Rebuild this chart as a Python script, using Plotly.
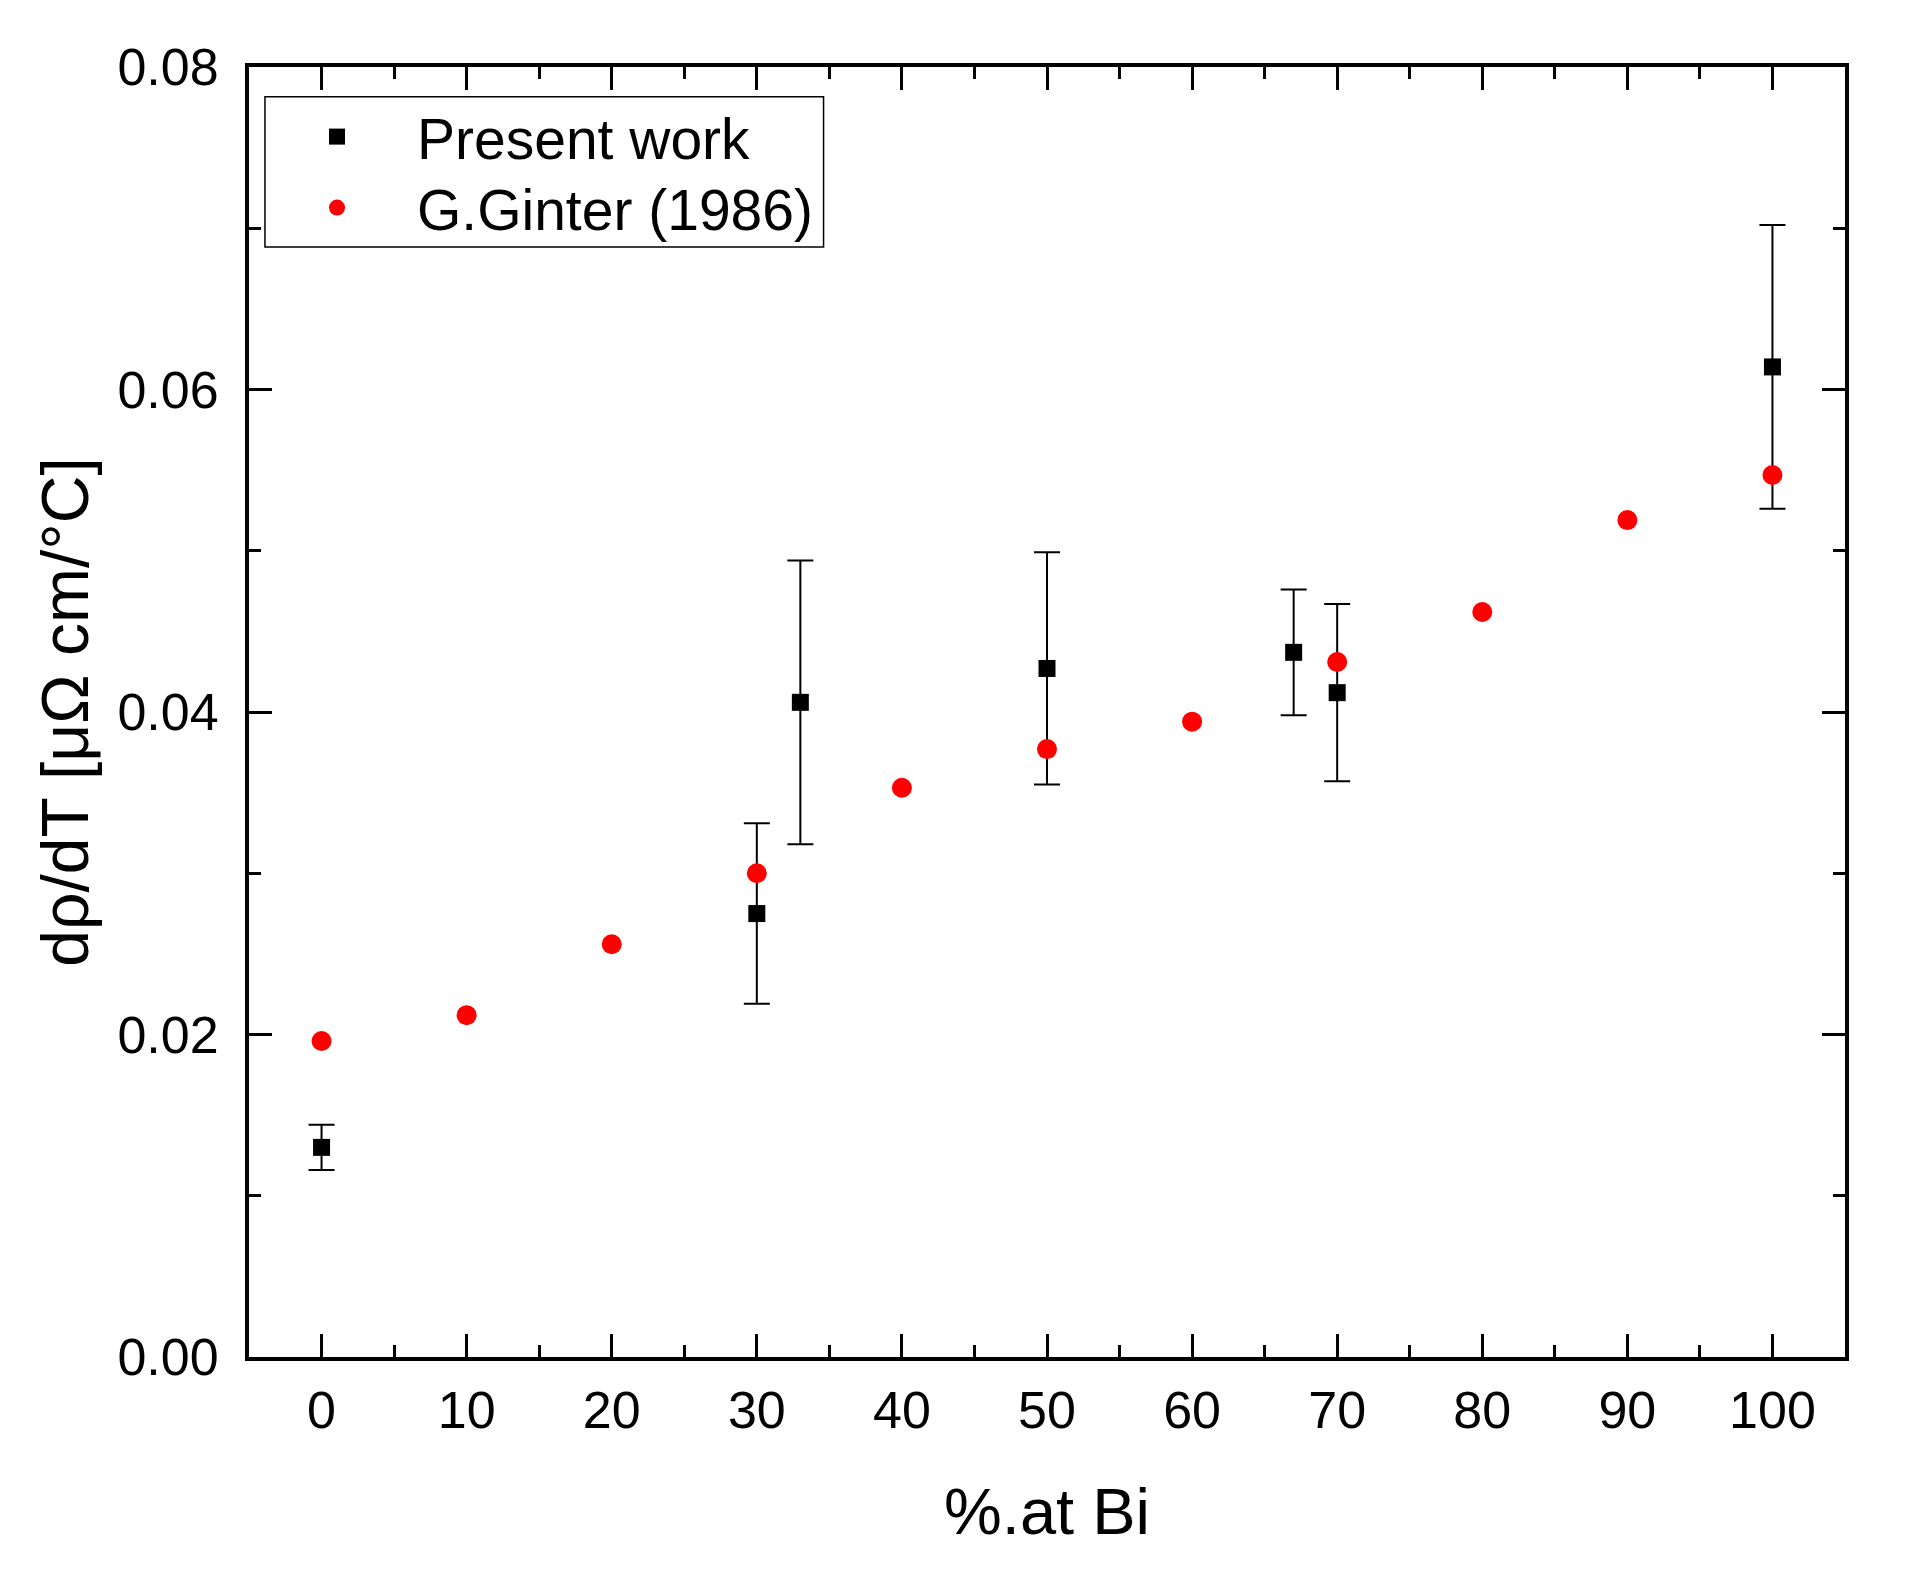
import plotly.graph_objects as go

# Present work
pw_x = [0, 30, 33, 50, 67, 70, 100]
pw_y = [0.0130, 0.0275, 0.0406, 0.0427, 0.0437, 0.0412, 0.0614]
pw_err = [0.0014, 0.0056, 0.0088, 0.0072, 0.0039, 0.0055, 0.0088]

# G.Ginter (1986)
gg_x = [0, 10, 20, 30, 40, 50, 60, 70, 80, 90, 100]
gg_y = [0.0196, 0.0212, 0.0256, 0.0300, 0.0353, 0.0377, 0.0394, 0.0431, 0.0462, 0.0519, 0.0547]

x_ticks = [0, 10, 20, 30, 40, 50, 60, 70, 80, 90, 100]
y_ticks = [0.00, 0.02, 0.04, 0.06, 0.08]

FONT = "Arial, Liberation Sans, sans-serif"

fig = go.Figure()
fig.add_trace(go.Scatter(
    x=pw_x, y=pw_y, mode="markers", name="Present work", legend="legend",
    marker=dict(symbol="square", size=17, color="black"),
    error_y=dict(type="data", array=pw_err, visible=True, color="black", thickness=2, width=13),
))
fig.add_trace(go.Scatter(
    x=gg_x, y=gg_y, mode="markers", name="G.Ginter (1986)", legend="legend2",
    marker=dict(symbol="circle", size=20, color="red"),
))

axis_common = dict(
    showline=True, linewidth=4, linecolor="black", mirror="allticks",
    ticks="inside", ticklen=23, tickwidth=3, tickcolor="black",
    showgrid=False, zeroline=False,
    tickfont=dict(family=FONT, size=52, color="black"),
)

fig.update_xaxes(
    **axis_common, range=[-5, 105], tickvals=x_ticks,
    ticktext=[str(v) for v in x_ticks],
    minor=dict(ticks="inside", ticklen=12, tickwidth=3, tickcolor="black", dtick=5, tick0=0, showgrid=False),
    title=dict(text="%.at Bi", font=dict(family=FONT, size=65, color="black"), standoff=51),
    ticklabelstandoff=5,
)
fig.update_yaxes(
    **axis_common, range=[0, 0.08], tickvals=y_ticks,
    ticktext=[f"{v:.2f}" for v in y_ticks],
    minor=dict(ticks="inside", ticklen=12, tickwidth=3, tickcolor="black", dtick=0.01, tick0=0, showgrid=False),
    title=dict(text="dρ/dT [μΩ cm/°C]", font=dict(family=FONT, size=66, color="black"), standoff=8),
    ticklabelstandoff=16,
)

leg_common = dict(
    xanchor="left", yanchor="middle",
    bgcolor="rgba(0,0,0,0)", borderwidth=0,
    font=dict(family=FONT, size=57, color="black"),
    itemsizing="trace", itemwidth=150,
)

fig.update_layout(
    width=1906, height=1586,
    margin=dict(l=241, r=69, t=59, b=237),
    paper_bgcolor="white", plot_bgcolor="white",
    showlegend=True,
    legend=dict(x=0.005, y=0.9457, **leg_common),
    legend2=dict(x=0.005, y=0.8907, **leg_common),
    shapes=[dict(
        type="rect", xref="paper", yref="paper",
        x0=0.010, x1=0.360, y0=0.8605, y1=0.977,
        line=dict(color="black", width=1.5), fillcolor="white", layer="below",
    )],
)

fig.write_html("out.html")
